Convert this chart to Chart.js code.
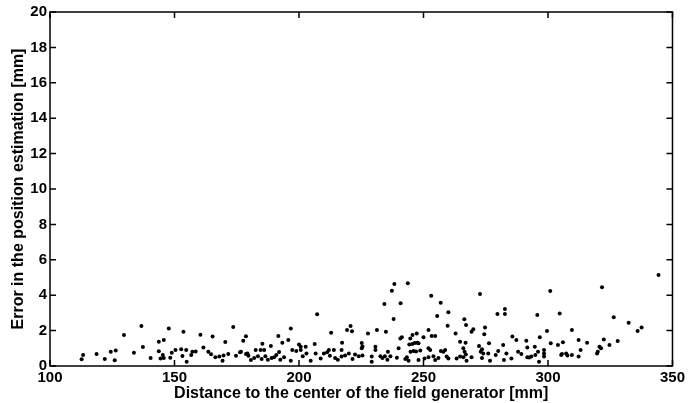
<!DOCTYPE html>
<html>
<head>
<meta charset="utf-8">
<script src="https://cdn.jsdelivr.net/npm/chart.js@4/dist/chart.umd.min.js"></script>
<style>
  html, body { margin: 0; padding: 0; background: #fff; }
  #wrap { width: 688px; height: 403px; }
</style>
</head>
<body>
<div id="wrap"><canvas id="errChart"></canvas></div>
<script>
// distance to the field generator [mm]
const distances = [
  112.7, 113.3, 118.7, 122, 124.4, 126.4, 126, 129.7, 133.7, 136.7,
  137.3, 140.4, 143.7, 145.7, 143.7, 145.3, 145.7, 144.4, 147.7, 148.3,
  148.9, 150.4, 152.7, 153.6, 154.7, 153.2, 154.9, 157.2, 156.7, 158.5,
  160.4, 161.6, 163.6, 164.7, 165.3, 166.4, 168, 169.3, 169.7, 170.4,
  171.6, 173.6, 174.7, 176.3, 176.7, 177.6, 178.7, 178.7, 179.3, 179.7,
  180.7,
  182, 182.6, 183.5, 184.6, 185.3, 185, 186, 186.5, 187.5, 188.7,
  189, 190, 190.9, 191.7, 192, 192.5, 193.3, 194, 195.7, 196.7,
  196.7, 197.3, 198.9, 200, 200.7, 200.7, 202.7, 201.5, 203, 204.7,
  206.3, 206.7, 207.3, 208.7, 210, 211.3, 212, 212.4, 212.9, 214,
  214.5, 215.6, 217.3, 217.1, 217.1,
  219.3, 220.7, 221.3, 218.5, 220, 221.5, 222.5, 224, 225.5, 225.2,
  225.5, 225.2, 227.7, 229.2, 229.2, 230.7, 230.7, 231.3, 232.7, 233.5,
  234.5, 235.5, 236.7, 234.3, 234.9, 235.7, 237.3, 238.3, 238, 239.3,
  240, 240.7, 241.3, 240.8, 242.7, 243.3, 244, 243.7, 244.3, 245.5,
  246.5, 247.5, 248, 244.7, 245.6, 247.3, 244.8, 246, 247, 248.7,
  248, 250, 250.4, 252, 253.3, 254.7, 253.1, 252, 252.7, 252,
  254, 254.7, 256, 255.5, 256.9, 257, 258, 258.7, 259.3, 260,
  260, 259.7, 262.9, 263.3, 264.7, 264.7,
  266.9, 266.4, 267.1, 266, 266.5, 267, 267.3, 266, 269.3, 270,
  269.3, 272.7, 272.3, 273.5, 273, 274, 273.5, 274.7, 274.4, 276.3,
  276, 276.7, 279, 280, 279.7, 282, 282.3, 282.7, 282.7, 283.3,
  285.7, 287.3, 285.3, 288, 289.3, 291.3, 291.7, 291.7, 292.5, 293.3,
  294.7, 296.7, 296, 294.9, 296.4, 298.4, 298.4, 298.4, 299.6, 295.7,
  300.9, 301.1, 304, 304.7, 306, 305.6, 307.3, 305.3, 307.8, 309.6,
  309.6,
  312.3, 313.1, 312.3, 315.7, 319.7, 320, 320.7, 321.3, 321.7, 322.4,
  324.7, 326.4, 328, 332.4, 336, 337.6, 344.4
];

// error in the position estimation [mm]
const errors = [
  0.38, 0.62, 0.68, 0.40, 0.81, 0.88, 0.32, 1.75, 0.75, 2.26,
  1.07, 0.45, 1.37, 1.47, 0.83, 0.62, 0.45, 0.42, 2.12, 0.46,
  0.75, 0.90, 0.94, 1.94, 0.90, 0.56, 0.24, 0.81, 0.62, 0.82,
  1.76, 1.04, 0.80, 0.66, 1.67, 0.50, 0.53, 0.30, 0.60, 1.36,
  0.68, 2.20, 0.58, 0.77, 0.81, 1.43, 1.68, 0.68, 0.71, 0.58,
  0.34,
  0.45, 0.90, 0.55, 0.90, 1.26, 0.40, 0.90, 0.55, 0.35, 1.13,
  0.45, 0.50, 0.62, 1.70, 0.79, 0.35, 1.32, 0.50, 1.47, 2.12,
  0.30, 0.90, 0.85, 1.22, 1.09, 0.90, 1.09, 0.55, 0.70, 0.30,
  1.24, 0.71, 2.92, 0.43, 0.71, 0.77, 0.90, 0.58, 1.88, 0.90,
  0.45, 0.35, 1.32, 0.53, 0.90,
  2.03, 2.26, 1.96, 0.60, 0.70, 0.40, 0.65, 0.55, 0.60, 1.30,
  1.10, 1.00, 1.84, 0.53, 0.24, 1.09, 0.90, 2.03, 0.55, 0.45,
  0.55, 0.35, 0.55, 3.50, 1.94, 0.81, 4.25, 4.63, 2.66, 0.47,
  1.00, 1.56, 1.62, 3.54, 0.40, 0.50, 0.30, 4.67, 1.22, 1.25,
  1.30, 1.32, 1.28, 1.56, 1.75, 1.84, 0.80, 0.85, 0.82, 0.88,
  0.34, 1.62, 0.43, 2.03, 1.69, 1.69, 3.97, 1.00, 0.90, 0.50,
  0.55, 0.34, 0.45, 2.82, 3.58, 0.85, 0.81, 0.90, 0.53, 0.43,
  3.03, 2.28, 1.84, 0.43, 0.53, 1.37,
  1.32, 2.64, 2.32, 1.00, 0.80, 0.65, 0.30, 0.50, 1.94, 2.07,
  0.50, 4.07, 1.13, 0.95, 0.80, 0.70, 0.45, 2.18, 1.79, 1.28,
  0.71, 0.30, 0.62, 0.85, 2.94, 1.19, 0.34, 3.22, 2.94, 0.71,
  1.66, 1.47, 0.43, 0.81, 0.68, 1.43, 1.05, 0.50, 0.48, 0.53,
  1.09, 1.62, 0.81, 0.62, 0.24, 0.90, 0.70, 0.53, 1.98, 2.88,
  4.24, 1.28, 1.19, 2.97, 1.34, 0.68, 0.71, 0.62, 0.60, 0.62,
  2.03,
  1.47, 0.90, 0.53, 1.32, 0.71, 0.81, 1.09, 1.00, 4.45, 1.50,
  1.19, 2.75, 1.41, 2.45, 1.98, 2.18, 5.14
];

const xTicks = [100, 150, 200, 250, 300, 350];
const yTicks = [0, 2, 4, 6, 8, 10, 12, 14, 16, 18, 20];

let points = [];
for (let i = 0; i < distances.length; i++) {
  points.push({ x: distances[i], y: errors[i] });
}

// 枠と内向きの目盛り (MATLAB風)
const boxTicks = {
  id: 'boxTicks',
  afterDraw(chart) {
    const { ctx, chartArea: a, scales } = chart;
    const len = 6;
    ctx.save();
    ctx.strokeStyle = '#000';
    ctx.lineWidth = 1.5;
    ctx.strokeRect(a.left, a.top, a.right - a.left, a.bottom - a.top);
    ctx.beginPath();
    xTicks.forEach(function (v) {
      const px = scales.x.getPixelForValue(v);
      ctx.moveTo(px, a.bottom); ctx.lineTo(px, a.bottom - len);
      ctx.moveTo(px, a.top); ctx.lineTo(px, a.top + len);
    });
    yTicks.forEach(function (v) {
      const py = scales.y.getPixelForValue(v);
      ctx.moveTo(a.left, py); ctx.lineTo(a.left + len, py);
      ctx.moveTo(a.right, py); ctx.lineTo(a.right - len, py);
    });
    ctx.stroke();
    ctx.restore();
  }
};

const tickFont = { family: 'Liberation Sans', size: 15, weight: 'bold' };
const titleFont = { family: 'Liberation Sans', size: 16, weight: 'bold' };

new Chart(document.getElementById('errChart'), {
  type: 'scatter',
  data: {
    datasets: [{
      data: points,
      backgroundColor: '#000',
      borderWidth: 0,
      pointRadius: 2,
      pointHoverRadius: 2
    }]
  },
  options: {
    responsive: true,
    maintainAspectRatio: false,
    animation: false,
    layout: { padding: { top: 12, right: 14, left: 0, bottom: 0 } },
    plugins: { legend: { display: false }, tooltip: { enabled: false } },
    scales: {
      x: {
        type: 'linear',
        min: 100, max: 350,
        afterBuildTicks: function (s) { s.ticks = xTicks.map(v => ({ value: v })); },
        afterFit: function (s) { s.height = 37; },
        grid: { display: false, drawTicks: false },
        border: { display: false },
        ticks: { color: '#000', font: tickFont, padding: 3, maxRotation: 0 },
        title: {
          display: true,
          text: 'Distance to the center of the field generator [mm]',
          color: '#000', font: titleFont, padding: { top: 0, bottom: 0 }
        }
      },
      y: {
        type: 'linear',
        min: 0, max: 20,
        afterBuildTicks: function (s) { s.ticks = yTicks.map(v => ({ value: v })); },
        afterFit: function (s) { s.width = 50; },
        grid: { display: false, drawTicks: false },
        border: { display: false },
        ticks: { color: '#000', font: tickFont, padding: 3 },
        title: {
          display: true,
          text: 'Error in the position estimation [mm]',
          color: '#000', font: titleFont, padding: { top: 9, bottom: 0 }
        }
      }
    }
  },
  plugins: [boxTicks]
});
</script>
</body>
</html>
